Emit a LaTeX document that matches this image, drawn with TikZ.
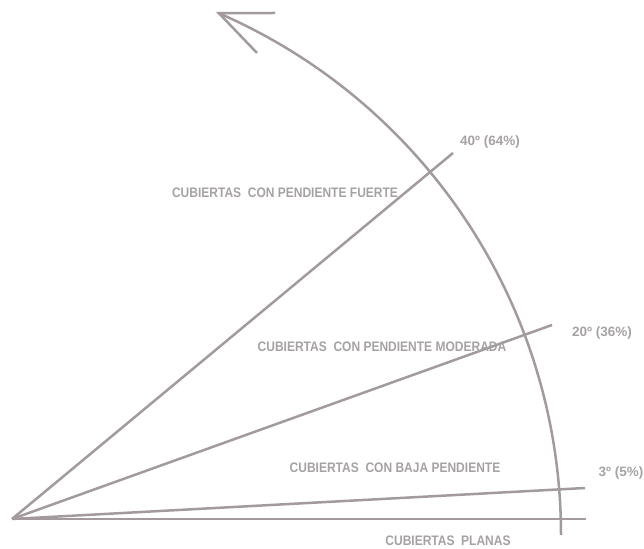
\documentclass[tikz,border=0pt]{standalone}
\usepackage{fontspec}
\setmainfont{Liberation Sans}
\newfontfamily\zonefont[FakeStretch=0.87]{Liberation Sans}
\definecolor{linegray}{RGB}{162,154,156}
\definecolor{textgray}{RGB}{166,162,164}
\begin{document}
\begin{tikzpicture}[x=1pt,y=1pt,
  rayline/.style={draw=linegray,line width=2.5pt},
  zonetext/.style={text=textgray,font=\zonefont\fontsize{13.8}{16}\selectfont\bfseries,inner sep=0pt,anchor=base},
  angletext/.style={text=textgray,font=\fontsize{13.5}{16}\selectfont\bfseries,inner sep=0pt,anchor=base}]
\useasboundingbox (0,0) rectangle (644,548);
% key points
\coordinate (O) at (12,29);
\coordinate (h) at (586,29);
\coordinate (e3) at (585,60);
\coordinate (e20) at (552,223);
\coordinate (e40) at (453,395);
\coordinate (arcstart) at (561,13);
\coordinate (tip) at (218.9,534.8);
\coordinate (barbA) at (275,535);
\coordinate (barbB) at (257,495);
% rays
\draw[rayline] (O) -- (h);
\draw[rayline] (O) -- (e3);
\draw[rayline] (O) -- (e20);
\draw[rayline] (O) -- (e40);
% arc with arrow head
\draw[rayline] (arcstart) arc[start angle=0,end angle=66.5,radius=569];
\draw[rayline,line join=miter] (barbA) -- (tip) -- (barbB);
% labels
\node[angletext] (l40) at (490,402) {40º (64\%)};
\node[angletext] (l20) at (602,211) {20º (36\%)};
\node[angletext] (l3) at (621,71) {3º (5\%)};
\node[zonetext] (zf) at (285,350) {CUBIERTAS\ \ CON PENDIENTE FUERTE};
\node[zonetext] (zm) at (382,196) {CUBIERTAS\ \ CON PENDIENTE MODERADA};
\node[zonetext] (zb) at (395,75) {CUBIERTAS\ \ CON BAJA PENDIENTE};
\node[zonetext] (zp) at (448,3) {CUBIERTAS\ \ PLANAS};
\end{tikzpicture}
\end{document}
